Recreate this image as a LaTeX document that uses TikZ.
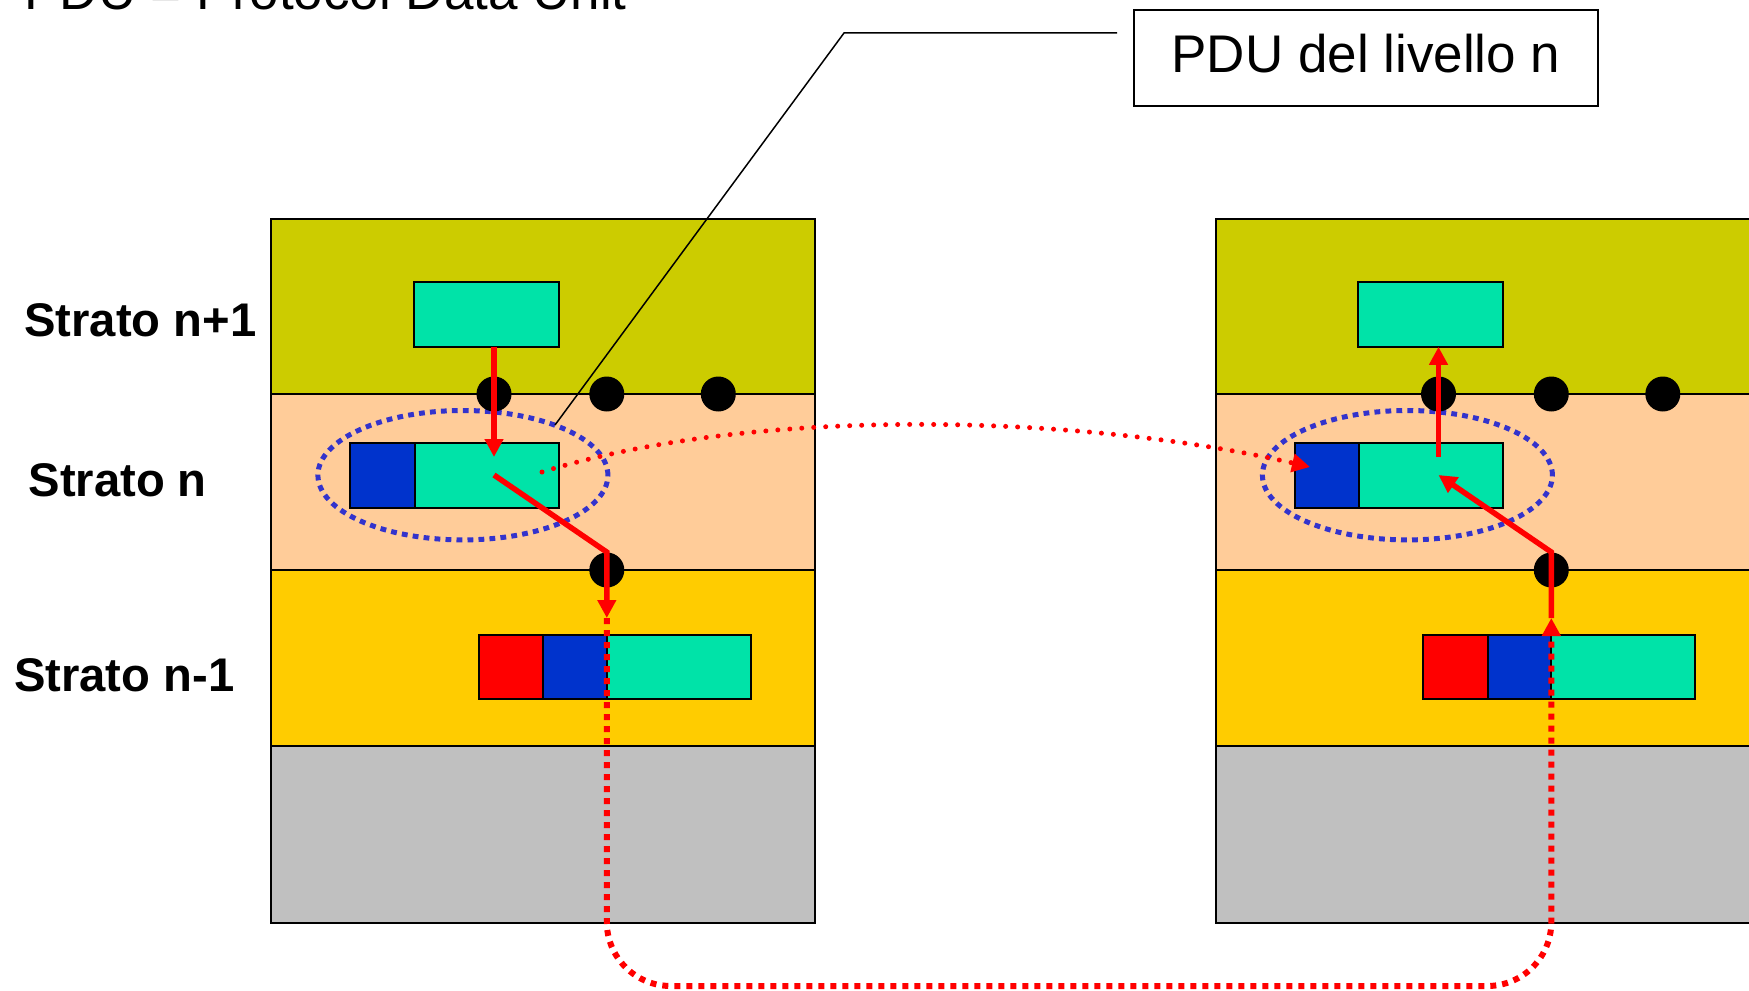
\documentclass[tikz,border=0pt]{standalone}
\usepackage{fontspec}
\setmainfont{Liberation Sans}
\usetikzlibrary{arrows.meta,calc}
\definecolor{cOlive}{RGB}{204,204,0}
\definecolor{cPeach}{RGB}{255,204,153}
\definecolor{cYellow}{RGB}{255,204,0}
\definecolor{cGray}{RGB}{192,192,192}
\definecolor{cTeal}{RGB}{0,227,168}
\definecolor{cBlue}{RGB}{0,51,204}
\definecolor{cRed}{RGB}{255,0,0}
\definecolor{cEll}{RGB}{51,51,204}
\newcommand{\bigfnt}{\fontsize{26.5pt}{31pt}\selectfont}
\newcommand{\labfnt}{\fontsize{23.6pt}{28pt}\selectfont\bfseries}
\begin{document}
\begin{tikzpicture}[x=0.5pt,y=-0.5pt,
  layer/.style={draw=black, line width=1pt},
  cell/.style={draw=black, line width=1pt, minimum height=32.35pt, inner sep=0pt, outer sep=0pt},
  dot/.style={circle, fill=black, minimum size=17.5pt, inner sep=0pt},
  redarrow/.style={draw=cRed, line width=2.75pt, -{Triangle[width=9pt,length=9pt]}},
  redsq/.style={draw=cRed, line width=3pt, dash pattern=on 3pt off 3pt, -{Triangle[width=9pt,length=9pt]}},
  reddot/.style={draw=cRed, line width=2.5pt, line cap=round, dash pattern=on 0pt off 6pt, -{Triangle[width=9pt,length=9pt]}},
  blueell/.style={draw=cEll, line width=2.5pt, dash pattern=on 2.9pt off 2.6pt},
  leader/.style={draw=black, line width=0.75pt},
  lab/.style={font=\labfnt, inner sep=0pt}
]
\useasboundingbox (0,0) rectangle (1749,990);
\fill[white] (0,0) rectangle (1749,990);

\foreach \s/\p in {0/L,944.5/R}{
  \draw[layer, fill=cOlive] (\s+271,219) rectangle (\s+815,394);
  \draw[layer, fill=cPeach] (\s+271,394) rectangle (\s+815,570);
  \draw[layer, fill=cYellow] (\s+271,570) rectangle (\s+815,746);
  \draw[layer, fill=cGray] (\s+271,746) rectangle (\s+815,922.5);
  \node[cell, fill=cTeal, minimum width=72.5pt] (\p A) at (\s+486.3,314.5) {};
  \node[cell, fill=cBlue, minimum width=32.35pt] (\p B) at (\s+382.5,475.2) {};
  \node[cell, fill=cTeal, minimum width=72pt, anchor=west] (\p C) at (\p B.east) {};
  \node[cell, fill=cRed, minimum width=32.35pt] (\p D) at (\s+510.9,667) {};
  \node[cell, fill=cBlue, minimum width=31.8pt, anchor=west] (\p E) at (\p D.east) {};
  \node[cell, fill=cTeal, minimum width=72pt, anchor=west] (\p F) at (\p E.east) {};
  \draw[blueell] (\s+462.9,475.2) ellipse [x radius=72.5pt, y radius=32.35pt];
  \node[dot] (\p d1) at (\s+494,394) {};
  \node[dot] (\p d2) at (\s+606.8,394) {};
  \node[dot] (\p d3) at (\s+718.3,394) {};
  \node[dot] (\p d4) at (\s+606.8,570) {};
  \coordinate (\p up) at (\s+494,457);
  \coordinate (\p mid) at (\s+494,475);
  \coordinate (\p low) at (\s+606.8,618);
}

% title and PDU box
\node[anchor=base west, inner sep=0pt, font=\bigfnt] (title) at (24,10) {PDU = Protocol Data Unit};
\node[draw, line width=1pt, minimum width=232pt, minimum height=48pt, inner sep=0pt, text depth=4.5pt, font=\bigfnt] (pdu) at (1366,58) {PDU del livello n};
\coordinate (k1) at ($(pdu.west)+(-16,-25)$);
\coordinate (k2) at (844,33);
\coordinate (k3) at (555,425);
\draw[leader] (k1) -- (k2) -- (k3);

% layer labels
\node[lab] (s1) at (140.5,320) {Strato n+1};
\node[lab] (s2) at (117.7,480) {Strato n};
\node[lab] (s3) at (124.3,675) {Strato n-1};

% left side arrows
\draw[redarrow] (LA.south -| Ld1) -- (Lup);
\draw[redarrow] (Lmid) -- (Ld4.north) -- (Llow);
% right side arrows
\draw[redarrow] (Rlow) -- (Rd4.north) -- (Rmid);
\draw[redarrow] (Rup) -- (RA.south -| Rd1);

% peer dotted curve
\coordinate (cs) at (542,472);
\coordinate (ce) at (1310,467);
\draw[reddot] (cs) .. controls (763,404) and (1089,416) .. (ce);

% bottom physical path
\coordinate (bot) at (0,986);
\draw[redsq, rounded corners=32pt] (Llow) -- (Llow |- bot) -- (Rlow |- bot) -- (Rlow);
\end{tikzpicture}
\end{document}
